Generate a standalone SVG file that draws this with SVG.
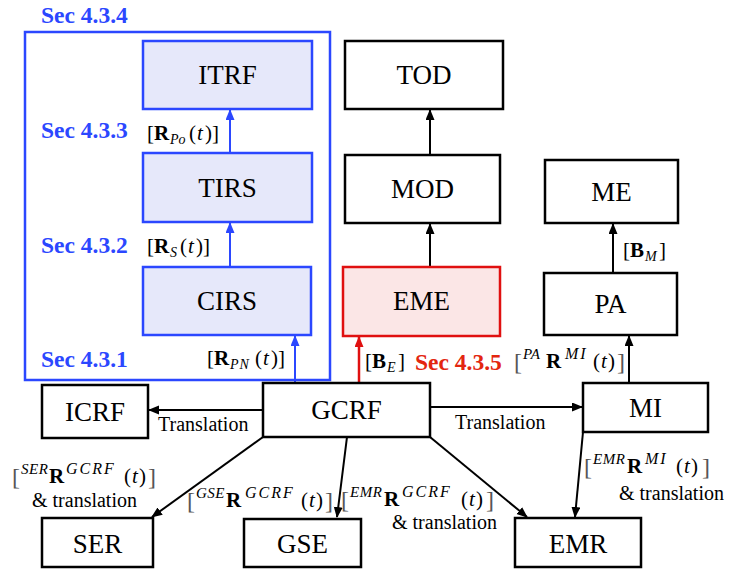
<svg xmlns="http://www.w3.org/2000/svg" width="729" height="569" viewBox="0 0 729 569" font-family="'Liberation Serif', 'Times New Roman', serif">
<defs>
<style>
text{font-family:"Liberation Serif","Times New Roman",serif;fill:#000}
.node rect{fill:#fff;stroke:#000;stroke-width:2.5}
.blue rect{fill:#E6E8FA;stroke:#2B47FF}
.red rect{fill:#FBE6E6;stroke:#E01010}
.nl{font-size:27px;text-anchor:middle}
.sec{font-size:23.5px;font-weight:bold;fill:#2B47FF}
.secr{font-size:23.5px;font-weight:bold;fill:#E3260F}
.m{font-size:21px}
.b{font-weight:bold}
.s{font-size:14px;font-style:italic}
.p{font-size:15px;font-style:italic;letter-spacing:0.5px}
.q{font-size:16px;font-style:italic;letter-spacing:2px}
.i{font-style:italic}
.br{font-size:24px;fill:#555}
.lab{font-size:20px}
.c line{stroke:#000;stroke-width:2;fill:none}
.c line.bl{stroke:#2B47FF}
.c line.rd{stroke:#E01010;stroke-width:2.5}
</style>
<marker id="ah" markerUnits="userSpaceOnUse" markerWidth="12" markerHeight="10" refX="10" refY="4.5" orient="auto"><path d="M0,0 L11,4.5 L0,9 z" fill="#000"/></marker>
<marker id="ahb" markerUnits="userSpaceOnUse" markerWidth="12" markerHeight="10" refX="10" refY="4.5" orient="auto"><path d="M0,0 L11,4.5 L0,9 z" fill="#2B47FF"/></marker>
<marker id="ahr" markerUnits="userSpaceOnUse" markerWidth="12" markerHeight="10" refX="10" refY="4.5" orient="auto"><path d="M0,0 L11,4.5 L0,9 z" fill="#E01010"/></marker>
</defs>

<rect id="sec434box" x="25" y="32" width="305" height="348" fill="none" stroke="#2B47FF" stroke-width="2.5"/>
<text class="sec" x="41" y="23">Sec 4.3.4</text>
<text class="sec" x="41" y="138">Sec 4.3.3</text>
<text class="sec" x="41" y="253">Sec 4.3.2</text>
<text class="sec" x="41" y="367">Sec 4.3.1</text>
<text class="secr" x="415" y="370">Sec 4.3.5</text>

<g class="c" id="connectors">
<line class="bl" x1="230" y1="153" x2="230" y2="110" marker-end="url(#ahb)"/>
<line class="bl" x1="230" y1="267" x2="230" y2="223" marker-end="url(#ahb)"/>
<line class="bl" x1="295" y1="382" x2="295" y2="336" marker-end="url(#ahb)"/>
<line class="rd" x1="359" y1="382" x2="359" y2="337" marker-end="url(#ahr)"/>
<line x1="430" y1="155" x2="430" y2="110" marker-end="url(#ah)"/>
<line x1="430" y1="267" x2="430" y2="224" marker-end="url(#ah)"/>
<line x1="613" y1="273" x2="613" y2="224" marker-end="url(#ah)"/>
<line x1="629" y1="383" x2="629" y2="336" marker-end="url(#ah)"/>
<line x1="263" y1="410" x2="149" y2="410" marker-end="url(#ah)"/>
<line x1="430" y1="407" x2="582" y2="407" marker-end="url(#ah)"/>
<line x1="263" y1="437" x2="152" y2="517" marker-end="url(#ah)"/>
<line x1="347" y1="437" x2="337" y2="517" marker-end="url(#ah)"/>
<line x1="430" y1="437" x2="527" y2="517" marker-end="url(#ah)"/>
<line x1="583" y1="432" x2="575" y2="517" marker-end="url(#ah)"/>
</g>

<g id="ITRF" class="node blue"><rect x="143" y="41" width="169" height="68"/><text class="nl" x="227.5" y="84">ITRF</text></g>
<g id="TIRS" class="node blue"><rect x="143" y="153" width="169" height="69"/><text class="nl" x="227.5" y="197">TIRS</text></g>
<g id="CIRS" class="node blue"><rect x="143" y="267" width="168" height="68"/><text class="nl" x="227" y="310">CIRS</text></g>
<g id="TOD" class="node"><rect x="345" y="41" width="158" height="68"/><text class="nl" x="424" y="84">TOD</text></g>
<g id="MOD" class="node"><rect x="345" y="155" width="155" height="68"/><text class="nl" x="422.5" y="198">MOD</text></g>
<g id="ME" class="node"><rect x="545" y="160" width="133" height="63"/><text class="nl" x="611.5" y="201">ME</text></g>
<g id="EME" class="node red"><rect x="343" y="267" width="157" height="69"/><text class="nl" x="421.5" y="310">EME</text></g>
<g id="PA" class="node"><rect x="544" y="273" width="133" height="62"/><text class="nl" x="610.5" y="313">PA</text></g>
<g id="GCRF" class="node"><rect x="263" y="383" width="167" height="54"/><text class="nl" x="346.5" y="419">GCRF</text></g>
<g id="ICRF" class="node"><rect x="42" y="385" width="106" height="53"/><text class="nl" x="95" y="421">ICRF</text></g>
<g id="MI" class="node"><rect x="583" y="383" width="125" height="49"/><text class="nl" x="645.5" y="417">MI</text></g>
<g id="SER" class="node"><rect x="42" y="518" width="111" height="49"/><text class="nl" x="97.5" y="553">SER</text></g>
<g id="GSE" class="node"><rect x="244" y="519" width="117" height="48"/><text class="nl" x="302.5" y="553">GSE</text></g>
<g id="EMR" class="node"><rect x="515" y="518" width="126" height="49"/><text class="nl" x="578" y="553">EMR</text></g>

<g id="labels">
<text class="m"><tspan x="147" y="140">[</tspan><tspan class="b" x="154" y="140">R</tspan><tspan class="s" x="170" y="144">Po</tspan><tspan x="189" y="140">(</tspan><tspan class="i" x="197" y="140">t</tspan><tspan x="205" y="140">)]</tspan></text>
<text class="m"><tspan x="147" y="253">[</tspan><tspan class="b" x="154" y="253">R</tspan><tspan class="s" x="170" y="257">S</tspan><tspan x="180" y="253">(</tspan><tspan class="i" x="188" y="253">t</tspan><tspan x="196" y="253">)]</tspan></text>
<text class="m"><tspan x="207" y="365">[</tspan><tspan class="b" x="214" y="365">R</tspan><tspan class="s" x="230" y="369" letter-spacing="1">PN</tspan><tspan x="255" y="365">(</tspan><tspan class="i" x="263" y="365">t</tspan><tspan x="271" y="365">)]</tspan></text>
<text class="m"><tspan x="365" y="368">[</tspan><tspan class="b" x="372" y="368">B</tspan><tspan class="s" x="387" y="372">E</tspan><tspan x="398" y="368">]</tspan></text>
<text class="m"><tspan x="623" y="257">[</tspan><tspan class="b" x="630" y="257">B</tspan><tspan class="s" x="645" y="261">M</tspan><tspan x="659" y="257">]</tspan></text>

<text class="m"><tspan class="br" x="514" y="370">[</tspan><tspan class="p" x="523" y="359">PA</tspan><tspan class="b" x="546" y="368">R</tspan><tspan class="q" x="565" y="359">MI</tspan><tspan x="593" y="368">(</tspan><tspan class="i" x="601" y="368">t</tspan><tspan x="608" y="368">)</tspan><tspan class="br" x="617" y="370">]</tspan></text>

<text class="m"><tspan class="br" x="12" y="485">[</tspan><tspan class="p" x="21" y="474">SER</tspan><tspan class="b" x="49" y="483">R</tspan><tspan class="q" x="66" y="474">GCRF</tspan><tspan x="124" y="483">(</tspan><tspan class="i" x="132" y="483">t</tspan><tspan x="139" y="483">)</tspan><tspan class="br" x="148" y="485">]</tspan></text>
<text class="lab" x="32" y="507">&amp; translation</text>

<text class="m"><tspan class="br" x="187" y="509">[</tspan><tspan class="p" x="196" y="498">GSE</tspan><tspan class="b" x="226" y="507">R</tspan><tspan class="q" x="245" y="498">GCRF</tspan><tspan x="301" y="507">(</tspan><tspan class="i" x="309" y="507">t</tspan><tspan x="316" y="507">)</tspan><tspan class="br" x="325" y="509">]</tspan></text>

<text class="m"><tspan class="br" x="341" y="508">[</tspan><tspan class="p" x="350" y="497">EMR</tspan><tspan class="b" x="384" y="506">R</tspan><tspan class="q" x="402" y="497">GCRF</tspan><tspan x="461" y="506">(</tspan><tspan class="i" x="469" y="506">t</tspan><tspan x="476" y="506">)</tspan><tspan class="br" x="486" y="508">]</tspan></text>
<text class="lab" x="392" y="529">&amp; translation</text>

<text class="m"><tspan class="br" x="584" y="475">[</tspan><tspan class="p" x="593" y="464">EMR</tspan><tspan class="b" x="627" y="473">R</tspan><tspan class="q" x="645" y="464">MI</tspan><tspan x="676" y="473">(</tspan><tspan class="i" x="684" y="473">t</tspan><tspan x="691" y="473">)</tspan><tspan class="br" x="702" y="475">]</tspan></text>
<text class="lab" x="619" y="500">&amp; translation</text>

<text class="lab" x="158" y="431">Translation</text>
<text class="lab" x="455" y="429">Translation</text>
</g>
</svg>
